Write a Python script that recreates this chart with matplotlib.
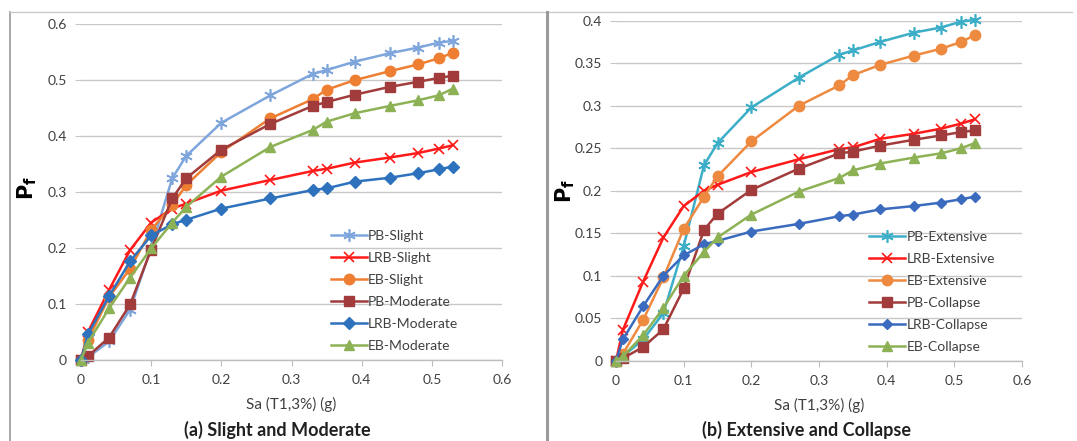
import matplotlib
matplotlib.use("Agg")
import matplotlib.pyplot as plt
from matplotlib.lines import Line2D

plt.rcParams['font.family'] = ['Lato', 'DejaVu Sans']

sa = [0, 0.01, 0.04, 0.07, 0.10, 0.13, 0.15, 0.20, 0.27, 0.33, 0.35, 0.39, 0.44, 0.48, 0.51, 0.53]

# (a) Slight and Moderate
pb_slight = [0, 0.005, 0.033, 0.090, 0.200, 0.324, 0.364, 0.423, 0.472, 0.510, 0.517, 0.532, 0.547, 0.557, 0.566, 0.569]
lrb_slight = [0, 0.050, 0.125, 0.196, 0.245, 0.270, 0.279, 0.302, 0.321, 0.337, 0.341, 0.352, 0.361, 0.369, 0.377, 0.383]
eb_slight = [0, 0.036, 0.112, 0.163, 0.232, 0.276, 0.312, 0.371, 0.431, 0.465, 0.482, 0.499, 0.515, 0.527, 0.538, 0.548]
pb_moderate = [0, 0.007, 0.040, 0.099, 0.197, 0.288, 0.324, 0.375, 0.421, 0.453, 0.460, 0.473, 0.487, 0.496, 0.503, 0.507]
lrb_moderate = [0, 0.046, 0.114, 0.176, 0.222, 0.242, 0.250, 0.270, 0.288, 0.303, 0.306, 0.318, 0.325, 0.333, 0.340, 0.345]
eb_moderate = [0, 0.031, 0.092, 0.147, 0.199, 0.245, 0.273, 0.327, 0.380, 0.410, 0.425, 0.440, 0.453, 0.463, 0.472, 0.484]

# (b) Extensive and Collapse
pb_extensive = [0, 0.005, 0.025, 0.056, 0.135, 0.230, 0.256, 0.298, 0.333, 0.360, 0.365, 0.375, 0.386, 0.392, 0.399, 0.401]
lrb_extensive = [0, 0.036, 0.093, 0.145, 0.182, 0.200, 0.207, 0.222, 0.237, 0.249, 0.251, 0.261, 0.267, 0.273, 0.279, 0.284]
eb_extensive = [0, 0.008, 0.048, 0.098, 0.155, 0.193, 0.217, 0.258, 0.300, 0.324, 0.336, 0.348, 0.359, 0.367, 0.375, 0.383]
pb_collapse = [0, 0.003, 0.016, 0.037, 0.085, 0.154, 0.173, 0.201, 0.226, 0.244, 0.246, 0.253, 0.260, 0.265, 0.269, 0.271]
lrb_collapse = [0, 0.025, 0.064, 0.100, 0.124, 0.137, 0.141, 0.152, 0.161, 0.170, 0.172, 0.178, 0.182, 0.186, 0.190, 0.193]
eb_collapse = [0, 0.005, 0.030, 0.062, 0.100, 0.128, 0.145, 0.172, 0.199, 0.215, 0.224, 0.232, 0.239, 0.244, 0.250, 0.256]

labels_a = ["PB-Slight", "LRB-Slight", "EB-Slight", "PB-Moderate", "LRB-Moderate", "EB-Moderate"]
labels_b = ["PB-Extensive", "LRB-Extensive", "EB-Extensive", "PB-Collapse", "LRB-Collapse", "EB-Collapse"]
xticks = [0, 0.1, 0.2, 0.3, 0.4, 0.5, 0.6]
yticks_a = [0, 0.1, 0.2, 0.3, 0.4, 0.5, 0.6]
yticks_b = [0, 0.05, 0.1, 0.15, 0.2, 0.25, 0.3, 0.35, 0.4]

ASTER = (6, 2, 0)
styles_a = [
    dict(color='#7EA6DC', marker=ASTER, ms=9, mew=1.2),
    dict(color='#FF1A1A', marker='x', ms=7, mew=1.2),
    dict(color='#EE7F32', marker='o', ms=7.5),
    dict(color='#A23B3B', marker='s', ms=7.5),
    dict(color='#2E72BE', marker='D', ms=6),
    dict(color='#8DB255', marker='^', ms=7.5),
]
styles_b = [
    dict(color='#3DAEC8', marker=ASTER, ms=9, mew=1.2),
    dict(color='#FF1A1A', marker='x', ms=7, mew=1.2),
    dict(color='#EE8A40', marker='o', ms=7.5),
    dict(color='#A23B3B', marker='s', ms=7.5),
    dict(color='#3A6BBF', marker='D', ms=5.5),
    dict(color='#8DB255', marker='^', ms=7.5),
]

fig = plt.figure(figsize=(10.77, 4.41), dpi=100)

ax1 = fig.add_axes([0.0752, 0.1837, 0.391, 0.763])
ax2 = fig.add_axes([0.572, 0.182, 0.377, 0.771])

def style_axes(ax, ymax, yticks):
    ax.set_xlim(0, 0.6)
    ax.set_ylim(0, ymax)
    ax.set_xticks(xticks)
    ax.set_xticklabels([('%g' % t) for t in xticks])
    ax.set_yticks(yticks)
    ax.set_yticklabels([('%g' % t) for t in yticks])
    ax.grid(axis='y', color='#C8C8C8', lw=1.0)
    ax.set_axisbelow(True)
    for s in ['top', 'right', 'left']:
        ax.spines[s].set_visible(False)
    ax.spines['bottom'].set_color('#BDBDBD')
    ax.spines['bottom'].set_linewidth(1.0)
    ax.tick_params(axis='x', direction='out', length=4, color='#BDBDBD', labelsize=10, labelcolor='#404040', pad=6)
    ax.tick_params(axis='y', direction='out', length=4, color='#C8C8C8', labelsize=10, labelcolor='#404040', pad=6)

style_axes(ax1, 0.6, yticks_a)
style_axes(ax2, 0.4, yticks_b)

series_a = [pb_slight, lrb_slight, eb_slight, pb_moderate, lrb_moderate, eb_moderate]
series_b = [pb_extensive, lrb_extensive, eb_extensive, pb_collapse, lrb_collapse, eb_collapse]

for ys, lab, st in zip(series_a, labels_a, styles_a):
    ax1.plot(sa, ys, label=lab, lw=1.8, clip_on=False, **st)
for ys, lab, st in zip(series_b, labels_b, styles_b):
    ax2.plot(sa, ys, label=lab, lw=1.8, clip_on=False, **st)

for ax, pos in [(ax1, (0.57, -0.005)), (ax2, (0.60, -0.005))]:
    leg = ax.legend(loc='lower left', bbox_to_anchor=pos, frameon=False, fontsize=10,
                    handlelength=2.6, handletextpad=0.1, labelspacing=0.72,
                    borderaxespad=0.3)
    for t in leg.get_texts():
        t.set_color('#404040')

for ax in (ax1, ax2):
    ax.set_xlabel('Sa (T1,3%) (g)', fontsize=11, color='#404040', labelpad=8)
    ax.set_ylabel(r'$\mathbf{P}_{\mathbf{f}}$', fontsize=15, color='black', labelpad=6)

ax1.yaxis.set_label_coords(-0.10, 0.51)
ax2.yaxis.set_label_coords(-0.095, 0.50)

fig.text(277 / 1077, 1 - 430 / 441, '(a) Slight and Moderate', ha='center', va='center',
         fontsize=13, fontweight='bold', color='#202020')
fig.text(806 / 1077, 1 - 430 / 441, '(b) Extensive and Collapse', ha='center', va='center',
         fontsize=13, fontweight='bold', color='#202020')

# panel frame lines
fig.add_artist(Line2D([10 / 1077, 10 / 1077], [0, 1 - 12 / 441], color='#9A9A9A', lw=1.2))
fig.add_artist(Line2D([10 / 1077, 1072 / 1077], [1 - 12 / 441, 1 - 12 / 441], color='#C8C8C8', lw=0.9))
fig.add_artist(Line2D([547 / 1077, 547 / 1077], [0, 1 - 12 / 441], color='#9A9A9A', lw=2.2))

fig.savefig('out.png', dpi=100)
